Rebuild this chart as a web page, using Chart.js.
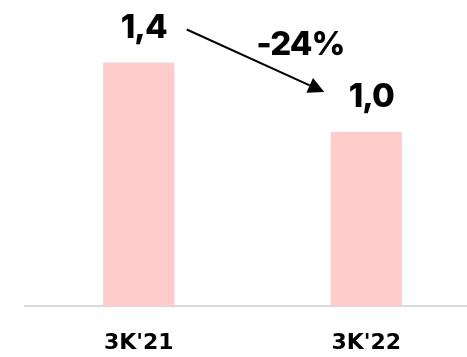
<!DOCTYPE html>
<html>
<head>
<meta charset="utf-8">
<script src="https://cdn.jsdelivr.net/npm/chart.js@4/dist/chart.umd.min.js"></script>
<style>
  html, body { margin: 0; padding: 0; background: #ffffff; overflow: hidden; }
  #wrap { position: relative; width: 480px; height: 383px; }
</style>
</head>
<body>
<div id="wrap"><canvas id="chart" width="480" height="383"></canvas></div>
<script>
// Periods and values
const categories = ["3K'21", "3K'22"];
const values = [1.4, 1.0];
const valueLabels = ['1,4', '1,0'];
const changeLabel = '-24%';

const FONT = 'Inter, "DejaVu Sans", sans-serif';

// Draws value labels above the bars and the change arrow between them
const annotations = {
  id: 'annotations',
  afterDatasetsDraw(chart) {
    const ctx = chart.ctx;
    const bars = chart.getDatasetMeta(0).data;
    ctx.save();
    ctx.fillStyle = '#000000';
    ctx.font = '800 33px ' + FONT;
    ctx.letterSpacing = '-1px';
    ctx.textAlign = 'center';
    ctx.textBaseline = 'alphabetic';
    bars.forEach((b, i) => {
      ctx.fillText(valueLabels[i], b.x + 5, b.y - 25);
    });

    const b1 = bars[0], b2 = bars[1];
    const x0 = b1.x + 48, y0 = b1.y - 33;
    const x1 = b2.x - 42, y1 = b2.y - 40;
    const ang = Math.atan2(y1 - y0, x1 - x0);
    const head = 16, hw = 8;
    const bx = x1 - head * Math.cos(ang), by = y1 - head * Math.sin(ang);
    ctx.strokeStyle = '#000000';
    ctx.lineWidth = 2;
    ctx.beginPath();
    ctx.moveTo(x0, y0);
    ctx.lineTo(bx, by);
    ctx.stroke();
    ctx.beginPath();
    ctx.moveTo(x1, y1);
    ctx.lineTo(bx + hw * Math.sin(ang), by - hw * Math.cos(ang));
    ctx.lineTo(bx - hw * Math.sin(ang), by + hw * Math.cos(ang));
    ctx.closePath();
    ctx.fill();

    ctx.fillText(changeLabel, b2.x - 66, b2.y - 77);
    ctx.restore();
  }
};

new Chart(document.getElementById('chart'), {
  type: 'bar',
  data: {
    labels: categories,
    datasets: [{
      data: values,
      backgroundColor: '#ffcccc',
      borderWidth: 0,
      categoryPercentage: 1,
      barPercentage: 0.313
    }]
  },
  options: {
    responsive: false,
    animation: false,
    devicePixelRatio: 1,
    layout: { padding: { left: 25, right: 0, top: 0, bottom: 3 } },
    plugins: { legend: { display: false }, tooltip: { enabled: false } },
    scales: {
      x: {
        grid: { display: false, drawTicks: false },
        border: { display: true, color: '#dadada', width: 2 },
        ticks: {
          color: '#000000',
          padding: 24,
          font: { family: '"DejaVu Sans", sans-serif', size: 22, weight: 'bold' }
        }
      },
      y: {
        display: false,
        min: 0,
        max: 1.76
      }
    }
  },
  plugins: [annotations]
});
</script>
</body>
</html>
